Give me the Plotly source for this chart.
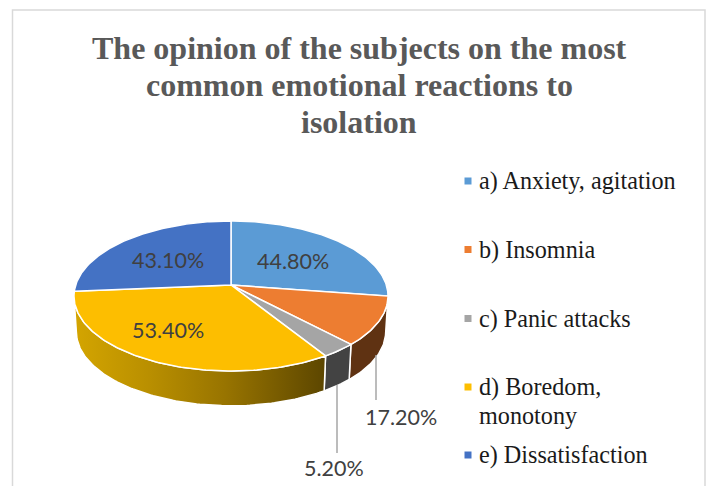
"""3D-look pie of emotional reactions to isolation, drawn with Plotly scatter fills."""

import numpy as np
import plotly.graph_objects as go

# Data
CATEGORIES = ["a) Anxiety, agitation", "b) Insomnia", "c) Panic attacks",
              "d) Boredom,<br>monotony", "e) Dissatisfaction"]
VALUES = [44.8, 17.2, 5.2, 53.4, 43.1]
TITLE_LINES = ["The opinion of the subjects on the most", "common emotional reactions to", "isolation"]

# Colours
TOP_COLORS = ["#5B9BD5", "#ED7D31", "#A5A5A5", "#FDBE00", "#4472C4"]
SIDE_COLORS = [None, "#5F3212", "#434343", None, None]
BOREDOM_GRADIENT = [[0, "#D4A500"], [0.3, "#B98F00"], [0.6, "#987400"], [1, "#5C4600"]]

# Pie geometry in page pixels
CX, CY = 231, 285
A, B, K = 155.3, 73.4, 0.147
DEPTH = 36
BOTTOM_SCALE = 0.985

# Where Excel put things (text anchors, not data)
LABEL_POS = [(293, 261), (401, 417), (334, 468), (168, 330), (168, 260)]
LEGEND_Y = [181, 249.5, 318.5, 387, 455]
TITLE_Y = [48, 85, 122]
LEADERS = [(376, 355, 400), (337, 385, 453)]


def project(theta, r=1.0):
    """Disc angle (clockwise from 12 o'clock) to screen pixels, with perspective."""
    x = r * np.sin(theta)
    z = -r * np.cos(theta)
    w = 1 - K * z
    return CX + A * x / w, CY + B * z / w


def arc(t0, t1):
    n = max(int(np.degrees(t1 - t0)), 2) + 1
    return np.linspace(t0, t1, n)


fracs = np.array(VALUES) / sum(VALUES)
edges = np.concatenate([[0], np.cumsum(fracs)]) * 2 * np.pi
# side wall only shows between the two silhouette points of the ellipse
vis0 = np.arccos(-K)
vis1 = 2 * np.pi - vis0

fig = go.Figure()

# side walls first, top faces go over them
for i in range(len(VALUES)):
    t0, t1 = max(edges[i], vis0), min(edges[i + 1], vis1)
    if t1 <= t0:
        continue
    th = arc(t0, t1)
    tx, ty = project(th)
    bx = CX + (tx - CX) * BOTTOM_SCALE
    by = CY + (ty - CY) * BOTTOM_SCALE + DEPTH
    xs = np.concatenate([tx, bx[::-1], tx[:1]])
    ys = np.concatenate([ty, by[::-1], ty[:1]])
    style = dict(fillcolor=SIDE_COLORS[i]) if SIDE_COLORS[i] else dict(
        fillgradient=dict(type="horizontal", colorscale=BOREDOM_GRADIENT))
    fig.add_trace(go.Scatter(x=xs, y=ys, mode="lines", fill="toself",
                             line=dict(color="white", width=1.5),
                             hoverinfo="skip", showlegend=False, **style))

for i in range(len(VALUES)):
    th = arc(edges[i], edges[i + 1])
    ax, ay = project(th)
    xs = np.concatenate([[CX], ax, [CX]])
    ys = np.concatenate([[CY], ay, [CY]])
    fig.add_trace(go.Scatter(x=xs, y=ys, mode="lines", fill="toself",
                             fillcolor=TOP_COLORS[i],
                             line=dict(color="white", width=1.5),
                             hoverinfo="skip", showlegend=False))

# leader lines for the two outside labels
for lx, y0, y1 in LEADERS:
    fig.add_trace(go.Scatter(x=[lx, lx], y=[y0, y1], mode="lines",
                             line=dict(color="#A6A6A6", width=1.5),
                             hoverinfo="skip", showlegend=False))

# legend squares
fig.add_trace(go.Scatter(x=[468] * len(LEGEND_Y), y=LEGEND_Y, mode="markers",
                         marker=dict(symbol="square", size=7, color=TOP_COLORS),
                         hoverinfo="skip", showlegend=False))

annotations = []
for val, (lx, ly) in zip(VALUES, LABEL_POS):
    annotations.append(dict(x=lx, y=ly, text=f"{val:.2f}%", showarrow=False,
                            font=dict(family="Lato", size=21.5, color="#404040")))
for cat, ly in zip(CATEGORIES, LEGEND_Y):
    # each wrapped line placed on its own, the default line height is too loose here
    for j, part in enumerate(cat.split("<br>")):
        annotations.append(dict(x=477, y=ly + j * 28, text=part, showarrow=False,
                                xanchor="left", yanchor="middle", align="left",
                                font=dict(family="Liberation Serif", size=24.2, color="#1a1a1a")))
for line, ly in zip(TITLE_LINES, TITLE_Y):
    annotations.append(dict(x=359, y=ly, text=f"<b>{line}</b>", showarrow=False,
                            font=dict(family="Liberation Serif", size=32, color="#595959")))
for a in annotations:
    a.update(xref="x", yref="y")

fig.update_layout(
    width=708, height=486,
    margin=dict(l=0, r=0, t=0, b=0),
    paper_bgcolor="white", plot_bgcolor="white",
    xaxis=dict(range=[0, 708], visible=False, fixedrange=True),
    yaxis=dict(range=[486, 0], visible=False, fixedrange=True),
    annotations=annotations,
    shapes=[dict(type="rect", x0=12.5, x1=705, y0=10, y1=500, xref="x", yref="y",
                 line=dict(color="#D9D9D9", width=1.5), layer="below")],
)

fig.write_html("out.html", config={"displayModeBar": False},
               post_script="document.body.style.margin='0';")
